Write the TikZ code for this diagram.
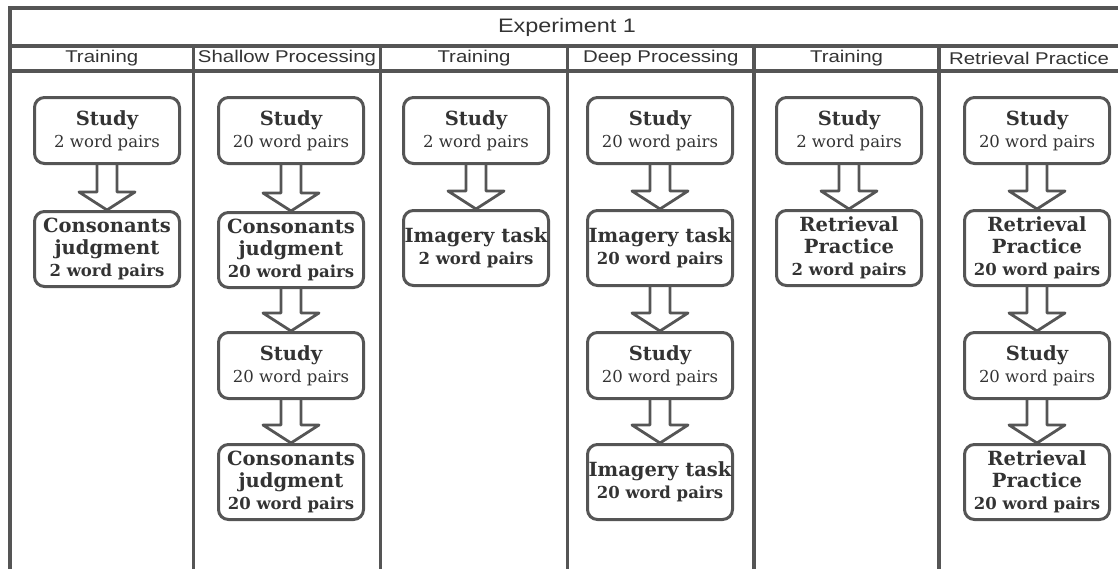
\documentclass[tikz,border=0pt]{standalone}
\usepackage{fontspec}
\usepackage{xcolor}
\usepackage{tikz}
\usetikzlibrary{calc}
\newfontfamily\headfont[FakeStretch=1.2]{Liberation Sans}
\newfontfamily\boxfont{DejaVu Serif}
\definecolor{linegray}{HTML}{555555}
\definecolor{textgray}{HTML}{333333}
\newcommand{\ttl}[1]{{\fontsize{19.5}{22}\selectfont\bfseries #1}}
\newcommand{\bpairs}[1]{{\bfseries #1 word pairs}}
\newcommand{\flowarrow}[2]{%
  \draw[arrowline] ($(#1.south)+(-10,0)$) -- ($(#2.north)+(-10,-18)$)
    -- ($(#2.north)+(-28,-18)$) -- (#2.north) -- ($(#2.north)+(28,-18)$)
    -- ($(#2.north)+(10,-18)$) -- ($(#1.south)+(10,0)$);}

\begin{document}
\begin{tikzpicture}[x=1pt,y=-1pt,
  frame/.style={draw=linegray,line width=3.2pt},
  head/.style={font=\headfont\fontsize{17}{20}\selectfont,text=textgray},
  stage/.style={draw=linegray,line width=3pt,rounded corners=10pt,text=textgray,
    minimum width=145pt,inner sep=1pt,align=center,anchor=north,
    font=\boxfont\fontsize{16.5}{22}\selectfont},
  short/.style={stage,minimum height=66pt},
  tall/.style={stage,minimum height=75pt},
  arrowline/.style={draw=linegray,line width=2.8pt,line join=round}]
\useasboundingbox (0,0) rectangle (1118,568);
\clip (0,0) rectangle (1118,568);
% table frame
\draw[frame] (1130,8) -- (10,8) -- (10,580);
\draw[frame] (10,46) -- (1130,46);
\draw[frame] (10,71) -- (1130,71);
\foreach \x in {193.5,380.5,567.5,754,939}
  \draw[frame] (\x,46) -- (\x,580);
\node[head,font=\headfont\fontsize{19.5}{22}\selectfont] (exp) at (567,27) {Experiment 1};
\node[head] (h1) at (101.75,58.5) {Training};
\node[head] (h2) at (287,58.5) {Shallow Processing};
\node[head] (h3) at (474,58.5) {Training};
\node[head] (h4) at (660.75,58.5) {Deep Processing};
\node[head] (h5) at (846.5,58.5) {Training};
\node[head] (h6) at (1029,58.5) {Retrieval Practice};
% training
\node[short] (a1) at (107,96) {\ttl{Study}\\2 word pairs};
\node[tall] (a2) at (107,210) {\ttl{Consonants}\\\ttl{judgment}\\\bpairs{2}};
% shallow processing
\node[short] (b1) at (291,96) {\ttl{Study}\\20 word pairs};
\node[tall] (b2) at (291,211) {\ttl{Consonants}\\\ttl{judgment}\\\bpairs{20}};
\node[short] (b3) at (291,331) {\ttl{Study}\\20 word pairs};
\node[tall] (b4) at (291,443) {\ttl{Consonants}\\\ttl{judgment}\\\bpairs{20}};
% training
\node[short] (c1) at (476,96) {\ttl{Study}\\2 word pairs};
\node[tall] (c2) at (476,209) {\ttl{Imagery task}\\\bpairs{2}};
% deep processing
\node[short] (d1) at (660,96) {\ttl{Study}\\20 word pairs};
\node[tall] (d2) at (660,209) {\ttl{Imagery task}\\\bpairs{20}};
\node[short] (d3) at (660,331) {\ttl{Study}\\20 word pairs};
\node[tall] (d4) at (660,443) {\ttl{Imagery task}\\\bpairs{20}};
% training
\node[short] (e1) at (849,96) {\ttl{Study}\\2 word pairs};
\node[tall] (e2) at (849,209) {\ttl{Retrieval}\\\ttl{Practice}\\\bpairs{2}};
% retrieval practice
\node[short] (f1) at (1037,96) {\ttl{Study}\\20 word pairs};
\node[tall] (f2) at (1037,209) {\ttl{Retrieval}\\\ttl{Practice}\\\bpairs{20}};
\node[short] (f3) at (1037,331) {\ttl{Study}\\20 word pairs};
\node[tall] (f4) at (1037,443) {\ttl{Retrieval}\\\ttl{Practice}\\\bpairs{20}};
% arrows
\flowarrow{a1}{a2}
\flowarrow{b1}{b2} \flowarrow{b2}{b3} \flowarrow{b3}{b4}
\flowarrow{c1}{c2}
\flowarrow{d1}{d2} \flowarrow{d2}{d3} \flowarrow{d3}{d4}
\flowarrow{e1}{e2}
\flowarrow{f1}{f2} \flowarrow{f2}{f3} \flowarrow{f3}{f4}
\end{tikzpicture}
\end{document}
